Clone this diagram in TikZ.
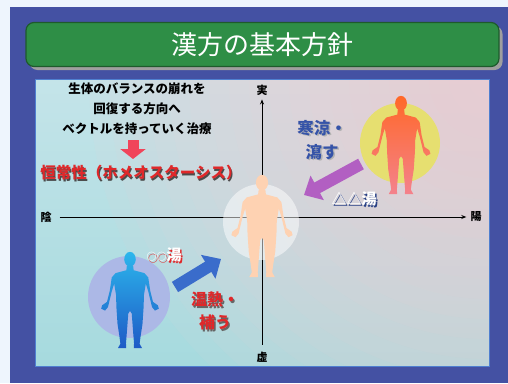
\documentclass[tikz,border=0pt]{standalone}
\usepackage{fontspec}
\setmainfont{Noto Sans CJK JP}
\usetikzlibrary{arrows.meta,shadows}

\definecolor{pagebg}{HTML}{EEF5FD}
\definecolor{frameblue}{HTML}{4451A3}
\definecolor{titlegreen}{HTML}{2E8E46}
\definecolor{titleedge}{HTML}{1E5A2C}
\definecolor{paneledge}{HTML}{4F7FD0}
\definecolor{paneltop}{HTML}{C4E4E9}
\definecolor{panelbottom}{HTML}{A6DADE}
\definecolor{panelpink}{HTML}{FACDD3}
\definecolor{textred}{HTML}{E0282A}
\definecolor{textblue}{HTML}{3553A8}
\definecolor{arrowred}{HTML}{F0445A}
\definecolor{arrowpurple}{HTML}{B25FC2}
\definecolor{arrowblue}{HTML}{3A6CCB}
\definecolor{haloyellow}{HTML}{E6DF70}
\definecolor{halolilac}{HTML}{ACB8E6}
\definecolor{skin}{HTML}{FED2B2}
\definecolor{hottop}{HTML}{FF6828}
\definecolor{hotbottom}{HTML}{F4828C}
\definecolor{coldtop}{HTML}{2CB6EC}
\definecolor{coldbottom}{HTML}{1E5AC6}

% standing figure, feet at (0,0), head top at y=10
\newcommand{\bodyshape}{(0,9.25) ellipse (0.6 and 0.76)
  (-0.33,8.55) -- (-0.38,8.1) -- (-1.5,7.8) -- (-1.9,7.35) -- (-2.1,6.0)
  -- (-2.4,4.8) -- (-2.9,4.45) -- (-3.0,4.1) -- (-2.6,3.9) -- (-2.3,4.25)
  -- (-1.9,5.9) -- (-1.65,6.7) -- (-1.45,5.5) -- (-1.42,4.3) -- (-1.3,2.5)
  -- (-1.1,1.2) -- (-1.0,0.45) -- (-1.25,0) -- (-0.4,0) -- (-0.42,0.5)
  -- (-0.33,1.6) -- (-0.18,3.6) -- (0,3.85)
  -- (0.18,3.6) -- (0.33,1.6) -- (0.42,0.5) -- (0.4,0) -- (1.25,0)
  -- (1.0,0.45) -- (1.1,1.2) -- (1.3,2.5) -- (1.42,4.3) -- (1.45,5.5)
  -- (1.65,6.7) -- (1.9,5.9) -- (2.3,4.25) -- (2.6,3.9) -- (3.0,4.1)
  -- (2.9,4.45) -- (2.4,4.8) -- (2.1,6.0) -- (1.9,7.35) -- (1.5,7.8)
  -- (0.38,8.1) -- (0.33,8.55) -- cycle}

\tikzset{
  titlebox/.style={draw=titleedge, line width=1.2pt, fill=titlegreen,
    rounded corners=8pt, minimum width=473pt, minimum height=44pt,
    text=white, font=\fontsize{26}{30}\selectfont,
    drop shadow={shadow xshift=3.5pt, shadow yshift=-3.5pt, fill=gray!75, opacity=1}},
  axis/.style={line width=1pt, -{Stealth[length=5pt,width=4pt]}},
  axislabel/.style={font=\bfseries\fontsize{11}{13}\selectfont, inner sep=4pt},
  note/.style={font=\bfseries\fontsize{12.5}{20}\selectfont, align=center, inner sep=0pt},
  redtext/.style={text=textred, font=\bfseries\fontsize{15.5}{18}\selectfont, inner sep=0pt},
  bluetext/.style={text=textblue, font=\bfseries\fontsize{16.5}{24}\selectfont, align=center, inner sep=0pt},
  warmtext/.style={text=textred, font=\bfseries\fontsize{16}{23}\selectfont, align=center, inner sep=0pt},
  rxtext/.style={text=white, font=\bfseries\fontsize{15}{18}\selectfont, inner sep=0pt},
  blockarrow/.style={line width=12pt, -{Triangle[width=27pt,length=15pt]}},
}
\newcommand{\smallring}{{\fontsize{10}{10}\selectfont ○○}}

\begin{document}
\begin{tikzpicture}[x=1pt,y=1pt]
\useasboundingbox (0,0) rectangle (508,-383);
\fill[pagebg] (0,0) rectangle (508,-383);
\fill[frameblue] (10,-7) rectangle (508,-383);

% title bar
\node[titlebox] (title) at (262.5,-44.5) {漢方の基本方針};

% panel, pink glow in the upper right corner
\shade[top color=paneltop, bottom color=panelbottom] (35,-79) rectangle (489,-366);
\begin{scope}
  \clip (35,-79) rectangle (489,-366);
  \foreach \r in {20,40,...,400}
    \fill[panelpink, opacity=0.065] (489,-79) circle (\r);
\end{scope}
\draw[paneledge, line width=1pt] (35,-79) rectangle (489,-366);

% axes
\node[axislabel] (yin) at (46,-217) {陰};
\node[axislabel] (yang) at (476,-217) {陽};
\node[axislabel] (jitsu) at (262,-90) {実};
\node[axislabel] (kyo) at (262,-357) {虚};
\draw[axis, shorten <=4pt] (yin) -- (yang);
\draw[axis, shorten <=3pt] (kyo) -- (jitsu);

% halos
\fill[white, opacity=0.5] (261,-222) circle (38);
\fill[haloyellow] (400,-143) circle (40);
\fill[halolilac] (129,-297) circle (41);

% figures
\fill[skin, shift={(262,-277)}, scale=10.2] \bodyshape;
\shade[top color=hottop, bottom color=hotbottom, shift={(401,-194)}, scale=9.8] \bodyshape;
\shade[top color=coldtop, bottom color=coldbottom, shift={(130,-348)}, scale=9.6] \bodyshape;

% explanation text
\node[note] (aim) at (137,-109) {生体のバランスの崩れを\\回復する方向へ\\ベクトルを持っていく治療};
\coordinate (downtop) at (133,-140);
\coordinate (downtip) at (133,-159);
\draw[blockarrow, arrowred, line width=11pt, -{Triangle[width=25pt,length=10pt]}] (downtop) -- (downtip);
\node[redtext, text=black!70] at (142,-174.5) {恒常性（ホメオスターシス）};
\node[redtext] (homeo) at (141,-173) {恒常性（ホメオスターシス）};

% cooling side
\node[bluetext, text=gray!60] at (323.5,-141.5) {寒涼・\\瀉す};
\node[bluetext] (cool) at (322,-140) {寒涼・\\瀉す};
\coordinate (cooltail) at (361,-164);
\coordinate (coolhead) at (304,-195);
\draw[blockarrow, arrowpurple] (cooltail) -- (coolhead);
\node[rxtext, text=textblue!80!black] at (355.5,-200.5) {△△湯};
\node[rxtext] (coolrx) at (354,-199) {△△湯};

% warming side
\coordinate (warmtail) at (175,-287);
\coordinate (warmhead) at (221,-259);
\draw[blockarrow, arrowblue] (warmtail) -- (warmhead);
\node[rxtext, text=textred] at (165.5,-256.5) {\smallring 湯};
\node[rxtext] (warmrx) at (164,-255) {\smallring 湯};
\node[warmtext, text=black!60] at (216.5,-312.5) {温熱・\\補う};
\node[warmtext] (warm) at (215,-311) {温熱・\\補う};
\end{tikzpicture}
\end{document}
